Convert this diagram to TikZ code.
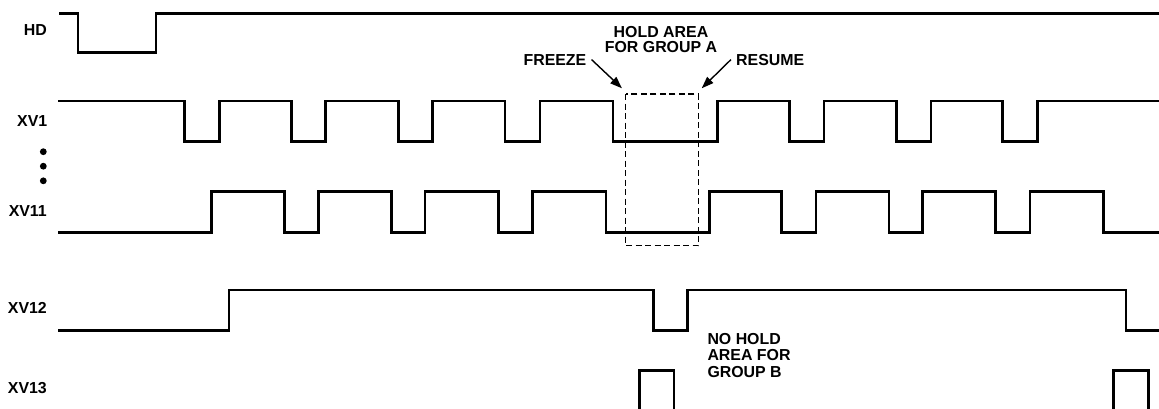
\documentclass[tikz,border=0pt]{standalone}
\usepackage{fontspec}
\setmainfont{Liberation Sans}
\usetikzlibrary{arrows.meta}
\tikzset{
  sig/.style={line width=2.6bp, line join=miter},
  lbl/.style={font=\fontsize{15.9bp}{15.4bp}\selectfont\bfseries, inner sep=0pt},
  holdbox/.style={dashed, dash pattern=on 6bp off 3.5bp, line width=1.3bp},
  callout/.style={line width=1.4bp, -{Triangle[length=12bp,width=8.5bp]}},
}
\begin{document}
\begin{tikzpicture}[x=1bp,y=-1bp]
\useasboundingbox (0,0) rectangle (1159,408);
\clip (0,0) rectangle (1159,408);
% labels
\node[lbl, anchor=base east] (lhd) at (47,35.7) {HD};
\node[lbl, anchor=base east] (lxv1) at (47.5,126) {XV1};
\node[lbl, anchor=base east] (lxv11) at (47,216.7) {XV11};
\node[lbl, anchor=base east] (lxv12) at (47,313.3) {XV12};
\node[lbl, anchor=base east] (lxv13) at (47,393.3) {XV13};
% vertical ellipsis
\fill (43.3,151.7) circle (3.4bp);
\fill (43.3,166.2) circle (3.4bp);
\fill (43.3,180.8) circle (3.4bp);
% HD
\draw[sig] (59,13.5) -| (78,52.7) -| (156,13.5) -- (1162,13.5);
% XV1
\draw[sig] (58,101) -| (184.3,141.7) -| (219.3,101) -| (291.7,141.7) -| (325.7,101)
  -| (398.5,141.7) -| (432.5,101) -| (505,141.7) -| (540,101) -| (613,141.7)
  -| (717.7,101) -| (789.3,141.7) -| (824,101) -| (896.5,141.7) -| (931,101)
  -| (1002.7,141.7) -| (1037.3,101) -- (1162,101);
% XV11
\draw[sig] (58,232.5) -| (211.7,191.2) -| (284.3,232.5) -| (318.3,191.2) -| (391.5,232.5)
  -| (425,191.2) -| (498.3,232.5) -| (532.3,191.2) -| (606,232.5) -| (709.3,191.2)
  -| (781.7,232.5) -| (816,191.2) -| (889,232.5) -| (922.7,191.2) -| (995.7,232.5)
  -| (1030,191.2) -| (1103.7,232.5) -- (1162,232.5);
% XV12
\draw[sig] (58,330.7) -| (229,290) -| (653.3,330.7) -| (687.7,290) -| (1126,330.7) -- (1162,330.7);
% XV13
\draw[sig] (58,412.5) -| (639.3,370.7) -| (674,412.5) -| (1113.3,370.7) -| (1148.3,412.5) -- (1162,412.5);
% hold area
\draw[holdbox] (625.7,94) rectangle (698.3,245.7);
\node[lbl, align=center] (hold) at (661,39.3) {HOLD AREA\\FOR GROUP A};
\node[lbl, anchor=base east, inner xsep=5bp] (freeze) at (591.5,65) {FREEZE};
\node[lbl, anchor=base west, inner xsep=5bp] (resume) at (731,65) {RESUME};
\coordinate (fztip) at (622,88.3);
\coordinate (rstip) at (701.7,88.3);
\draw[callout] (freeze.east) -- (fztip);
\draw[callout] (resume.west) -- (rstip);
% no hold
\node[lbl, align=left, anchor=west, font=\fontsize{15.9bp}{16.5bp}\selectfont\bfseries] (nohold) at (707.3,355.1) {NO HOLD\\AREA FOR\\GROUP B};
\end{tikzpicture}
\end{document}
